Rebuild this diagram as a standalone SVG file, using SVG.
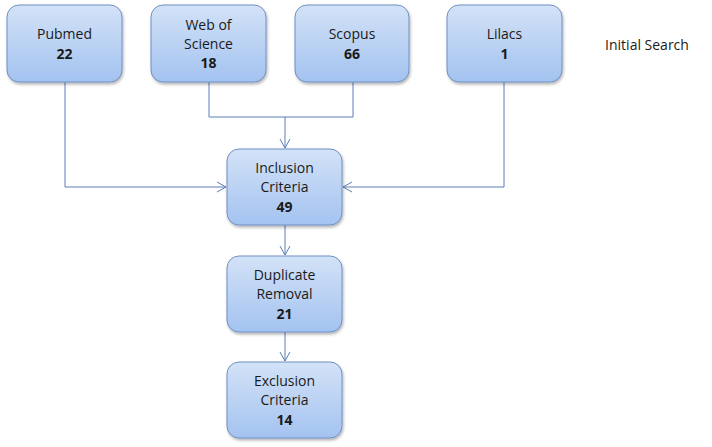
<svg xmlns="http://www.w3.org/2000/svg" width="712" height="447" viewBox="0 0 712 447">
<defs>
<linearGradient id="g" x1="0" y1="0" x2="0" y2="1">
<stop offset="0" stop-color="#d3e2f7"/>
<stop offset="1" stop-color="#a3c3f0"/>
</linearGradient>
<filter id="sh" x="-10%" y="-10%" width="130%" height="130%">
<feGaussianBlur in="SourceAlpha" stdDeviation="1.5"/>
<feOffset dx="1" dy="2" result="b"/>
<feComponentTransfer><feFuncA type="linear" slope="0.3"/></feComponentTransfer>
<feMerge><feMergeNode/><feMergeNode in="SourceGraphic"/></feMerge>
</filter>
<marker id="a" markerWidth="12" markerHeight="12" refX="10" refY="6" orient="auto" markerUnits="userSpaceOnUse">
<path d="M1,1 L10,6 L1,11" fill="none" stroke="#5a7fb8" stroke-width="1"/>
</marker>
</defs>
<style>
.box{fill:url(#g);stroke:#6f8fc4;stroke-width:1;filter:url(#sh)}
.t{font-family:"Open Sans","Liberation Sans",sans-serif;font-size:14px;fill:#1a1a1a;text-anchor:middle}
.b{font-weight:bold}
.c{fill:none;stroke:#5a7fb8;stroke-width:1}
</style>
<g id="connectors">
<path class="c" d="M65,82 V187 H226" marker-end="url(#a)"/>
<path class="c" d="M504,82 V187 H343" marker-end="url(#a)"/>
<path class="c" d="M209,82 V117 H353 V82"/>
<path class="c" d="M285,117 V148" marker-end="url(#a)"/>
<path class="c" d="M285,225 V255" marker-end="url(#a)"/>
<path class="c" d="M285,332 V361" marker-end="url(#a)"/>
</g>
<g id="pubmed">
<rect class="box" x="7" y="5" width="115" height="77" rx="12"/>
<text class="t" x="64.5" y="39">Pubmed</text>
<text class="t b" x="64.5" y="59">22</text>
</g>
<g id="wos">
<rect class="box" x="151" y="5" width="115" height="77" rx="12"/>
<text class="t" x="208.5" y="30">Web of</text>
<text class="t" x="208.5" y="49">Science</text>
<text class="t b" x="208.5" y="68">18</text>
</g>
<g id="scopus">
<rect class="box" x="295" y="5" width="114" height="77" rx="12"/>
<text class="t" x="352" y="39">Scopus</text>
<text class="t b" x="352" y="59">66</text>
</g>
<g id="lilacs">
<rect class="box" x="447" y="5" width="115" height="77" rx="12"/>
<text class="t" x="504.5" y="39">Lilacs</text>
<text class="t b" x="504.5" y="59">1</text>
</g>
<g id="initial-search">
<text class="t" x="647" y="50">Initial Search</text>
</g>
<g id="inclusion">
<rect class="box" x="227" y="149" width="115" height="76" rx="12"/>
<text class="t" x="284.5" y="173">Inclusion</text>
<text class="t" x="284.5" y="192">Criteria</text>
<text class="t b" x="284.5" y="212">49</text>
</g>
<g id="duplicate">
<rect class="box" x="227" y="256" width="115" height="76" rx="12"/>
<text class="t" x="284.5" y="280">Duplicate</text>
<text class="t" x="284.5" y="299">Removal</text>
<text class="t b" x="284.5" y="319">21</text>
</g>
<g id="exclusion">
<rect class="box" x="227" y="362" width="115" height="76" rx="12"/>
<text class="t" x="284.5" y="386">Exclusion</text>
<text class="t" x="284.5" y="405">Criteria</text>
<text class="t b" x="284.5" y="425">14</text>
</g>
</svg>
